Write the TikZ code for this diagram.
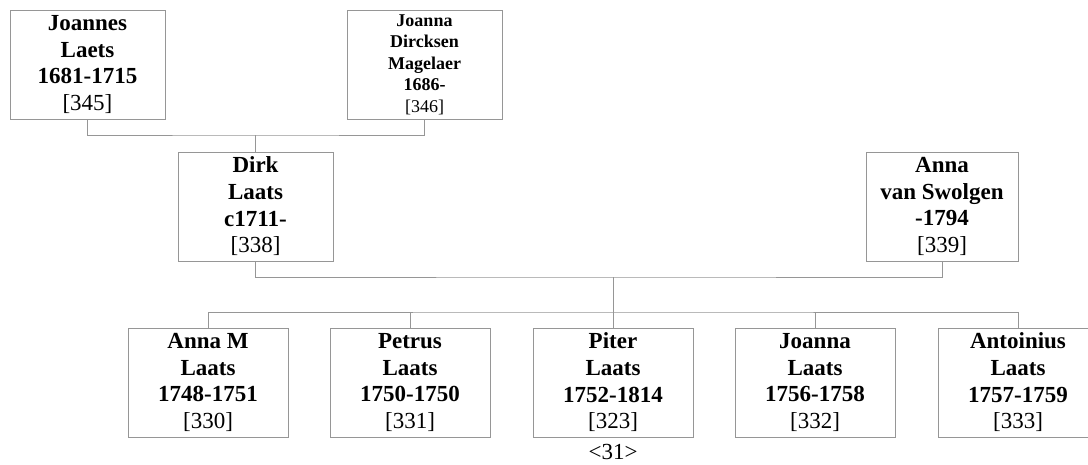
\documentclass[tikz,border=0pt]{standalone}
\usepackage{fontspec}
\setmainfont{Liberation Serif}
\definecolor{lc}{RGB}{150,150,150}
\tikzset{
  person/.style={draw=lc, line width=1pt, rectangle, inner sep=0pt, align=center,
    minimum width=155pt, minimum height=109pt, text=black,
    font=\fontsize{23}{26.7}\selectfont\bfseries},
  kid/.style={person, minimum width=160pt},
  smallperson/.style={person, font=\fontsize{18}{21.5}\selectfont\bfseries},
  conn/.style={draw=lc, line width=1pt},
  lbl/.style={inner sep=0pt, font=\fontsize{23}{26.7}\selectfont}
}
\begin{document}
\begin{tikzpicture}[x=1pt,y=-1pt]
\clip (0,0) rectangle (1088,464);
\fill[white] (0,0) rectangle (1088,464);
\node[person] (jo) at (87.5,64.5) {Joannes\\Laets\\1681-1715\\\textmd{[345]}};
\node[smallperson] (jd) at (424.5,64.5) {Joanna\\Dircksen\\Magelaer\\1686-\\\textmd{[346]}};
\node[person] (dk) at (255.5,206.5) {Dirk\\Laats\\c1711-\\\textmd{[338]}};
\node[person, minimum width=152pt] (an) at (942,206.5) {Anna\\van Swolgen\\-1794\\\textmd{[339]}};
\node[kid] (c1) at (208,382.5) {Anna M\\Laats\\1748-1751\\\textmd{[330]}};
\node[kid] (c2) at (410,382.5) {Petrus\\Laats\\1750-1750\\\textmd{[331]}};
\node[kid] (c3) at (613,382.5) {Piter\\Laats\\1752-1814\\\textmd{[323]}};
\node[kid] (c4) at (815,382.5) {Joanna\\Laats\\1756-1758\\\textmd{[332]}};
\node[kid] (c5) at (1018,382.5) {Antoinius\\Laats\\1757-1759\\\textmd{[333]}};
\node[lbl] (n31) at (613,452) {<31>};
\coordinate (m1) at (255.5,135);
\coordinate (m2) at (613,277);
\coordinate (m3) at (613,312);
\draw[conn] (jo.south) |- (m1) -| (jd.south);
\draw[conn] (m1) -- (dk.north);
\draw[conn] (dk.south) |- (m2) -| (an.south);
\draw[conn] (m2) -- (c3.north);
\draw[conn] (c1.north) |- (m3) -| (c5.north);
\draw[conn] (c2.north) -- (c2.north |- m3);
\draw[conn] (c4.north) -- (c4.north |- m3);
\end{tikzpicture}
\end{document}
